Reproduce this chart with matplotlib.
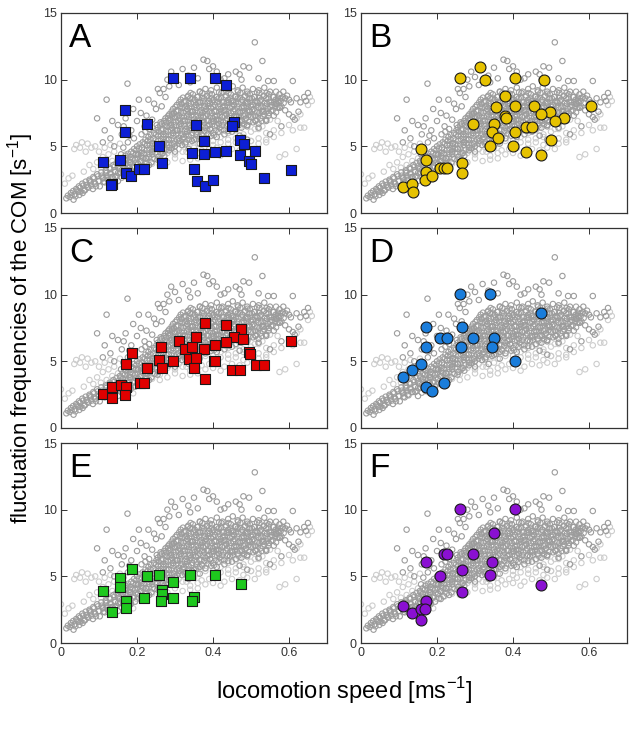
import matplotlib
matplotlib.use("Agg")
import matplotlib.pyplot as plt

plt.rcParams['font.family'] = ['Liberation Sans', 'DejaVu Sans']
plt.rcParams['mathtext.fontset'] = 'custom'
plt.rcParams['mathtext.rm'] = 'Liberation Sans'

# ---- background cloud (all trials) ----
# darker gray points: scattered ones first, then the dense core row by row
bg_dark_x = [0.095, 0.110, 0.115, 0.120, 0.130, 0.135, 0.140, 0.150, 0.160, 0.165, 0.170, 0.175, 0.180, 0.185,
             0.190, 0.200, 0.205, 0.210, 0.220, 0.225, 0.230, 0.240, 0.245, 0.250, 0.255, 0.260, 0.265, 0.270,
             0.275, 0.280, 0.285,
             0.150, 0.158, 0.164, 0.176, 0.182, 0.192, 0.202, 0.212, 0.222, 0.232, 0.242, 0.252, 0.262, 0.272,
             0.282, 0.292,
             0.290, 0.300, 0.320, 0.335, 0.350, 0.360, 0.375, 0.385, 0.390, 0.400, 0.410, 0.430, 0.440, 0.460,
             0.470, 0.475, 0.480, 0.495, 0.510, 0.520, 0.530, 0.545, 0.560, 0.340, 0.310, 0.420,
             0.570, 0.580, 0.585, 0.595, 0.600, 0.605, 0.610, 0.620, 0.630, 0.640, 0.650, 0.645, 0.590, 0.600,
             0.610, 0.615, 0.625, 0.575, 0.565, 0.580, 0.470, 0.490, 0.520, 0.540, 0.550,
             # core rows
             0.365, 0.380, 0.395, 0.410, 0.425, 0.440, 0.452, 0.465, 0.478, 0.490, 0.505, 0.520, 0.535, 0.550,
             0.335, 0.347, 0.360, 0.372, 0.385, 0.397, 0.410, 0.422, 0.435, 0.447, 0.460, 0.472, 0.485, 0.497,
             0.510, 0.522, 0.535, 0.547, 0.560, 0.575,
             0.315, 0.327, 0.340, 0.352, 0.365, 0.377, 0.390, 0.402, 0.415, 0.427, 0.440, 0.452, 0.465, 0.477,
             0.490, 0.502, 0.515, 0.527, 0.540, 0.552, 0.565, 0.578, 0.590,
             0.305, 0.317, 0.330, 0.342, 0.355, 0.367, 0.380, 0.392, 0.405, 0.417, 0.430, 0.442, 0.455, 0.467,
             0.480, 0.492, 0.505, 0.517, 0.530, 0.542, 0.555, 0.567, 0.580,
             0.295, 0.307, 0.320, 0.332, 0.345, 0.357, 0.370, 0.382, 0.395, 0.407, 0.420, 0.432, 0.445, 0.457,
             0.470, 0.482, 0.495, 0.507, 0.520, 0.532, 0.545, 0.557, 0.570,
             0.285, 0.297, 0.310, 0.322, 0.335, 0.347, 0.360, 0.372, 0.385, 0.397, 0.410, 0.422, 0.435, 0.447,
             0.460, 0.472, 0.485, 0.497, 0.510, 0.522, 0.535, 0.547, 0.560,
             0.275, 0.287, 0.300, 0.312, 0.325, 0.337, 0.350, 0.362, 0.375, 0.387, 0.400, 0.412, 0.425, 0.437,
             0.450, 0.462, 0.475, 0.487, 0.500, 0.512, 0.525, 0.540,
             0.265, 0.277, 0.290, 0.302, 0.315, 0.327, 0.340, 0.352, 0.365, 0.377, 0.390, 0.402, 0.415, 0.427,
             0.440, 0.452, 0.465, 0.477, 0.490, 0.505, 0.520,
             0.255, 0.267, 0.280, 0.292, 0.305, 0.317, 0.330, 0.342, 0.355, 0.367, 0.380, 0.392, 0.405, 0.417,
             0.430, 0.445, 0.460, 0.475, 0.490,
             0.245, 0.257, 0.270, 0.282, 0.295, 0.307, 0.320, 0.332, 0.345, 0.357, 0.370, 0.385, 0.400, 0.415,
             0.430, 0.450,
             0.230, 0.243, 0.256, 0.270, 0.283, 0.296, 0.310, 0.323, 0.336, 0.350, 0.365, 0.380, 0.395, 0.410,
             0.215, 0.228, 0.242, 0.256, 0.270, 0.284, 0.298, 0.312, 0.328, 0.345, 0.365,
             0.200, 0.213, 0.227, 0.241, 0.255, 0.270, 0.285, 0.300, 0.318, 0.336,
             0.185, 0.198, 0.212, 0.226, 0.240, 0.254, 0.268, 0.284, 0.300,
             0.170, 0.183, 0.197, 0.211, 0.225, 0.240, 0.256, 0.272,
             0.155, 0.168, 0.181, 0.195, 0.209, 0.223, 0.238, 0.254,
             0.138, 0.150, 0.163, 0.176, 0.189, 0.203, 0.217, 0.232,
             0.118, 0.130, 0.142, 0.155, 0.168, 0.181, 0.195, 0.210,
             0.095, 0.107, 0.119, 0.131, 0.143, 0.156, 0.169, 0.183,
             0.075, 0.087, 0.099, 0.111, 0.123, 0.136, 0.150,
             0.056, 0.067, 0.078, 0.090, 0.102, 0.115,
             0.040, 0.050, 0.061, 0.072, 0.084,
             0.026, 0.036, 0.046, 0.057,
             0.014, 0.023, 0.033]
bg_dark_y = [7.1, 5.3, 6.2, 8.5, 5.6, 6.9, 5.0, 6.6, 5.9, 6.5, 7.1, 9.7, 5.8, 6.2,
             7.8, 6.9, 8.5, 7.5, 6.5, 7.3, 8.5, 7.0, 8.2, 7.8, 9.3, 9.0, 8.0, 9.3,
             8.7, 10.0, 9.5,
             3.0, 4.4, 4.9, 5.3, 4.0, 5.6, 4.4, 5.9, 6.1, 6.3, 5.2, 6.6, 6.8, 5.3,
             7.1, 7.4,
             10.6, 10.2, 10.8, 10.3, 10.9, 10.1, 11.5, 11.4, 10.8, 11.0, 10.6, 10.1, 10.4, 10.6,
             10.4, 10.0, 11.0, 10.9, 12.8, 10.1, 11.4, 9.9, 9.9, 9.8, 9.6, 10.0,
             8.4, 8.6, 9.1, 8.8, 8.5, 8.3, 9.9, 8.6, 8.3, 8.7, 9.0, 8.4, 7.7, 7.4,
             7.2, 7.0, 7.6, 7.9, 8.2, 6.5, 5.8, 5.5, 6.4, 6.9, 5.9,
             9.1, 9.3, 9.2, 9.4, 9.1, 9.3, 9.5, 9.2, 9.4, 9.1, 9.3, 9.2, 9.4, 9.1,
             8.8, 8.9, 8.7, 9.0, 8.8, 8.9, 8.7, 9.0, 8.8, 8.9, 8.7, 9.0, 8.8, 8.9,
             8.7, 9.0, 8.8, 8.9, 8.7, 8.9,
             8.5, 8.4, 8.6, 8.5, 8.3, 8.6, 8.4, 8.5, 8.6, 8.3, 8.5, 8.4, 8.6, 8.5,
             8.3, 8.6, 8.4, 8.5, 8.6, 8.3, 8.5, 8.4, 8.6,
             8.1, 8.2, 8.0, 8.2, 8.1, 8.3, 8.0, 8.2, 8.1, 8.2, 8.0, 8.3, 8.1, 8.2,
             8.0, 8.2, 8.1, 8.3, 8.0, 8.2, 8.1, 8.2, 8.0,
             7.8, 7.7, 7.9, 7.8, 7.6, 7.9, 7.7, 7.8, 7.9, 7.6, 7.8, 7.7, 7.9, 7.8,
             7.6, 7.9, 7.7, 7.8, 7.9, 7.6, 7.8, 7.7, 7.9,
             7.4, 7.5, 7.3, 7.5, 7.4, 7.6, 7.3, 7.5, 7.4, 7.5, 7.3, 7.6, 7.4, 7.5,
             7.3, 7.5, 7.4, 7.6, 7.3, 7.5, 7.4, 7.5, 7.3,
             7.1, 7.0, 7.2, 7.1, 6.9, 7.2, 7.0, 7.1, 7.2, 6.9, 7.1, 7.0, 7.2, 7.1,
             6.9, 7.2, 7.0, 7.1, 7.2, 6.9, 7.1, 7.0,
             6.7, 6.8, 6.6, 6.8, 6.7, 6.9, 6.6, 6.8, 6.7, 6.8, 6.6, 6.9, 6.7, 6.8,
             6.6, 6.8, 6.7, 6.9, 6.6, 6.8, 6.7,
             6.4, 6.3, 6.5, 6.4, 6.2, 6.5, 6.3, 6.4, 6.5, 6.2, 6.4, 6.3, 6.5, 6.4,
             6.2, 6.5, 6.3, 6.4, 6.5,
             6.0, 6.1, 5.9, 6.1, 6.0, 6.2, 5.9, 6.1, 6.0, 6.1, 5.9, 6.2, 6.0, 6.1,
             5.9, 6.1,
             5.7, 5.6, 5.8, 5.7, 5.5, 5.8, 5.6, 5.7, 5.8, 5.5, 5.7, 5.6, 5.8, 5.7,
             5.3, 5.4, 5.2, 5.4, 5.3, 5.5, 5.2, 5.4, 5.3, 5.4, 5.2,
             5.0, 4.9, 5.1, 5.0, 4.8, 5.1, 4.9, 5.0, 5.1, 4.8,
             4.6, 4.7, 4.5, 4.7, 4.6, 4.8, 4.5, 4.7, 4.6,
             4.3, 4.2, 4.4, 4.3, 4.1, 4.4, 4.2, 4.3,
             3.9, 4.0, 3.8, 4.0, 3.9, 4.1, 3.8, 4.0,
             3.6, 3.5, 3.7, 3.6, 3.4, 3.7, 3.5, 3.6,
             3.2, 3.3, 3.1, 3.3, 3.2, 3.4, 3.1, 3.3,
             2.9, 2.8, 3.0, 2.9, 2.7, 3.0, 2.8, 2.9,
             2.5, 2.6, 2.4, 2.6, 2.5, 2.7, 2.4,
             2.2, 2.1, 2.3, 2.2, 2.0, 2.3,
             1.8, 1.9, 1.7, 1.9, 1.8,
             1.5, 1.4, 1.6, 1.5,
             1.1, 1.2, 1.0]

# second, interleaved layer of the dark cloud (fills the gaps of the core)
bg_fill_x = [0.341, 0.366, 0.391, 0.416, 0.441, 0.466, 0.491, 0.516, 0.541, 0.566,
             0.321, 0.333, 0.346, 0.358, 0.371, 0.383, 0.396, 0.408, 0.421, 0.433, 0.446, 0.458, 0.471, 0.483,
             0.496, 0.508, 0.521, 0.533, 0.546, 0.558, 0.571, 0.584,
             0.311, 0.323, 0.336, 0.348, 0.361, 0.373, 0.386, 0.398, 0.411, 0.423, 0.436, 0.448, 0.461, 0.473,
             0.486, 0.498, 0.511, 0.523, 0.536, 0.548, 0.561, 0.573, 0.586,
             0.301, 0.313, 0.326, 0.338, 0.351, 0.363, 0.376, 0.388, 0.401, 0.413, 0.426, 0.438, 0.451, 0.463,
             0.476, 0.488, 0.501, 0.513, 0.526, 0.538, 0.551, 0.563, 0.576,
             0.291, 0.303, 0.316, 0.328, 0.341, 0.353, 0.366, 0.378, 0.391, 0.403, 0.416, 0.428, 0.441, 0.453,
             0.466, 0.478, 0.491, 0.503, 0.516, 0.528, 0.541, 0.553, 0.566,
             0.281, 0.293, 0.306, 0.318, 0.331, 0.343, 0.356, 0.368, 0.381, 0.393, 0.406, 0.418, 0.431, 0.443,
             0.456, 0.468, 0.481, 0.493, 0.506, 0.518, 0.531, 0.546,
             0.271, 0.283, 0.296, 0.308, 0.321, 0.333, 0.346, 0.358, 0.371, 0.383, 0.396, 0.408, 0.421, 0.433,
             0.446, 0.458, 0.471, 0.483, 0.496, 0.512, 0.528,
             0.261, 0.273, 0.286, 0.298, 0.311, 0.323, 0.336, 0.348, 0.361, 0.373, 0.386, 0.398, 0.411, 0.423,
             0.437, 0.452, 0.467, 0.482,
             0.251, 0.263, 0.276, 0.288, 0.301, 0.313, 0.326, 0.338, 0.351, 0.363, 0.377, 0.392, 0.407, 0.422,
             0.440,
             0.237, 0.250, 0.263, 0.276, 0.289, 0.303, 0.316, 0.329, 0.343, 0.357, 0.372, 0.388, 0.403,
             0.222, 0.235, 0.249, 0.263, 0.277, 0.291, 0.305, 0.320, 0.336, 0.355,
             0.207, 0.220, 0.234, 0.248, 0.262, 0.277, 0.292, 0.309, 0.327,
             0.192, 0.205, 0.219, 0.233, 0.247, 0.261, 0.276, 0.292,
             0.177, 0.190, 0.204, 0.218, 0.232, 0.248, 0.264,
             0.162, 0.175, 0.188, 0.202, 0.216, 0.231, 0.246,
             0.146, 0.157, 0.170, 0.183, 0.196, 0.210, 0.225,
             0.128, 0.140, 0.152, 0.165, 0.178, 0.192, 0.206,
             0.106, 0.118, 0.130, 0.143, 0.156, 0.170, 0.184,
             0.085, 0.097, 0.109, 0.121, 0.133, 0.146, 0.160,
             0.065, 0.076, 0.088, 0.100, 0.112, 0.125,
             0.047, 0.058, 0.069, 0.080, 0.092,
             0.032, 0.042, 0.052, 0.063,
             0.018, 0.028, 0.038, 0.048]
bg_fill_y = [9.0, 9.1, 8.95, 9.05, 9.0, 9.1, 8.95, 9.05, 9.0, 9.1,
             8.65, 8.7, 8.6, 8.7, 8.65, 8.75, 8.6, 8.7, 8.65, 8.7, 8.6, 8.75, 8.65, 8.7,
             8.6, 8.7, 8.65, 8.75, 8.6, 8.7, 8.65, 8.7,
             8.3, 8.35, 8.25, 8.35, 8.3, 8.4, 8.25, 8.35, 8.3, 8.35, 8.25, 8.4, 8.3, 8.35,
             8.25, 8.35, 8.3, 8.4, 8.25, 8.35, 8.3, 8.35, 8.25,
             7.95, 8.0, 7.9, 8.0, 7.95, 8.05, 7.9, 8.0, 7.95, 8.0, 7.9, 8.05, 7.95, 8.0,
             7.9, 8.0, 7.95, 8.05, 7.9, 8.0, 7.95, 8.0, 7.9,
             7.6, 7.65, 7.55, 7.65, 7.6, 7.7, 7.55, 7.65, 7.6, 7.65, 7.55, 7.7, 7.6, 7.65,
             7.55, 7.65, 7.6, 7.7, 7.55, 7.65, 7.6, 7.65, 7.55,
             7.25, 7.3, 7.2, 7.3, 7.25, 7.35, 7.2, 7.3, 7.25, 7.3, 7.2, 7.35, 7.25, 7.3,
             7.2, 7.3, 7.25, 7.35, 7.2, 7.3, 7.25, 7.3,
             6.9, 6.95, 6.85, 6.95, 6.9, 7.0, 6.85, 6.95, 6.9, 6.95, 6.85, 7.0, 6.9, 6.95,
             6.85, 6.95, 6.9, 7.0, 6.85, 6.95, 6.9,
             6.55, 6.6, 6.5, 6.6, 6.55, 6.65, 6.5, 6.6, 6.55, 6.6, 6.5, 6.65, 6.55, 6.6,
             6.5, 6.6, 6.55, 6.65,
             6.2, 6.25, 6.15, 6.25, 6.2, 6.3, 6.15, 6.25, 6.2, 6.25, 6.15, 6.3, 6.2, 6.25,
             6.15,
             5.85, 5.9, 5.8, 5.9, 5.85, 5.95, 5.8, 5.9, 5.85, 5.9, 5.8, 5.95, 5.85,
             5.5, 5.55, 5.45, 5.55, 5.5, 5.6, 5.45, 5.55, 5.5, 5.55,
             5.15, 5.2, 5.1, 5.2, 5.15, 5.25, 5.1, 5.2, 5.15,
             4.8, 4.85, 4.75, 4.85, 4.8, 4.9, 4.75, 4.85,
             4.45, 4.5, 4.4, 4.5, 4.45, 4.55, 4.4,
             4.1, 4.15, 4.05, 4.15, 4.1, 4.2, 4.05,
             3.75, 3.8, 3.7, 3.8, 3.75, 3.85, 3.7,
             3.4, 3.45, 3.35, 3.45, 3.4, 3.5, 3.35,
             3.05, 3.1, 3.0, 3.1, 3.05, 3.15, 3.0,
             2.7, 2.75, 2.65, 2.75, 2.7, 2.8, 2.65,
             2.35, 2.4, 2.3, 2.4, 2.35, 2.45,
             2.0, 2.05, 1.95, 2.05, 2.0,
             1.65, 1.7, 1.6, 1.7,
             1.3, 1.35, 1.25, 1.35]

# lighter gray points (lower band)
bg_light_x = [0.000, 0.010, 0.020, 0.030, 0.035, 0.040, 0.050, 0.055, 0.060, 0.065, 0.070, 0.075, 0.080, 0.085,
              0.090, 0.095, 0.100, 0.105, 0.110, 0.115, 0.120, 0.125, 0.130, 0.135, 0.140, 0.150, 0.155, 0.160,
              0.170, 0.175, 0.180, 0.190,
              0.440, 0.460, 0.480, 0.500, 0.520, 0.540, 0.560, 0.580, 0.600,
              0.320, 0.340, 0.360, 0.380, 0.400, 0.420, 0.440, 0.460, 0.480, 0.500, 0.520, 0.540, 0.560,
              0.280, 0.300, 0.320, 0.340, 0.360, 0.380, 0.400, 0.420, 0.440, 0.460, 0.480, 0.500, 0.520, 0.540,
              0.250, 0.270, 0.290, 0.310, 0.330, 0.350, 0.370, 0.390, 0.410, 0.430, 0.450, 0.470, 0.490, 0.510,
              0.220, 0.240, 0.260, 0.280, 0.300, 0.320, 0.340, 0.360, 0.380, 0.400, 0.420,
              0.200, 0.220, 0.240, 0.260, 0.280, 0.300, 0.320, 0.340, 0.360,
              0.180, 0.200, 0.220, 0.240, 0.260,
              0.160, 0.180, 0.200,
              0.570, 0.550, 0.530, 0.590, 0.575, 0.620, 0.630, 0.640, 0.620, 0.610, 0.630, 0.650, 0.660, 0.655,
              0.510, 0.490, 0.470]
bg_light_y = [2.9, 2.2, 2.6, 2.8, 4.8, 5.1, 4.9, 5.3, 3.1, 4.6, 5.2, 3.6, 4.9, 3.3,
              5.0, 3.8, 4.6, 3.4, 4.2, 4.9, 3.6, 4.4, 5.1, 3.9, 4.6, 4.1, 5.2, 3.7,
              4.4, 2.7, 3.0, 2.6,
              6.0, 6.2, 5.9, 6.1, 6.3, 6.0, 6.2, 6.0, 6.6,
              5.6, 5.5, 5.7, 5.6, 5.4, 5.7, 5.5, 5.6, 5.7, 5.4, 5.6, 5.5, 5.7,
              5.2, 5.3, 5.1, 5.3, 5.2, 5.4, 5.1, 5.3, 5.2, 5.3, 5.1, 5.4, 5.2, 5.3,
              4.8, 4.7, 4.9, 4.8, 4.6, 4.9, 4.7, 4.8, 4.9, 4.6, 4.8, 4.7, 4.9, 4.8,
              4.4, 4.5, 4.3, 4.5, 4.4, 4.6, 4.3, 4.5, 4.4, 4.5, 4.3,
              4.0, 3.9, 4.1, 4.0, 3.8, 4.1, 3.9, 4.0, 4.1,
              3.6, 3.7, 3.5, 3.7, 3.6,
              3.2, 3.1, 3.3,
              6.9, 7.0, 6.5, 4.4, 4.2, 4.8, 6.4, 6.4, 7.1, 6.2, 7.4, 8.1, 8.4, 8.7,
              6.3, 6.6, 6.4]

# ---- highlighted groups, one per panel ----
a_x = [0.294, 0.339, 0.404, 0.434, 0.168, 0.226, 0.168, 0.355, 0.454, 0.449, 0.259, 0.376, 0.472, 0.481,
       0.345, 0.377, 0.404, 0.434, 0.472, 0.511, 0.495, 0.500, 0.110, 0.156, 0.171, 0.185, 0.205, 0.219,
       0.266, 0.350, 0.358, 0.378, 0.399, 0.535, 0.604, 0.134, 0.132]
a_y = [10.1, 10.1, 10.1, 9.6, 7.7, 6.7, 6.1, 6.6, 6.8, 6.5, 5.05, 5.4, 5.5, 5.15,
       4.5, 4.4, 4.6, 4.65, 4.35, 4.65, 3.9, 3.7, 3.85, 4.0, 3.0, 2.8, 3.3, 3.3,
       3.75, 3.3, 2.4, 2.0, 2.5, 2.6, 3.25, 2.2, 2.1]

b_x = [0.313, 0.260, 0.326, 0.406, 0.482, 0.379, 0.356, 0.406, 0.455, 0.606, 0.379, 0.381, 0.498, 0.474,
       0.535, 0.511, 0.295, 0.350, 0.433, 0.450, 0.346, 0.406, 0.360, 0.500, 0.339, 0.399, 0.435, 0.473,
       0.158, 0.170, 0.267, 0.265, 0.172, 0.168, 0.187, 0.207, 0.218, 0.225, 0.110, 0.133, 0.136]
b_y = [10.95, 10.1, 10.0, 10.1, 9.95, 8.75, 7.95, 8.0, 8.0, 8.05, 7.3, 7.15, 7.55, 7.4,
       7.1, 6.9, 6.7, 6.7, 6.45, 6.45, 6.05, 6.1, 5.6, 5.45, 5.05, 5.0, 4.6, 4.35,
       4.8, 4.0, 3.75, 3.0, 3.05, 2.5, 2.8, 3.35, 3.35, 3.35, 1.95, 2.2, 1.55]

c_x = [0.379, 0.434, 0.473, 0.356, 0.454, 0.480, 0.311, 0.434, 0.262, 0.325, 0.345, 0.377, 0.405, 0.186,
       0.259, 0.295, 0.337, 0.356, 0.402, 0.406, 0.496, 0.498, 0.172, 0.227, 0.266, 0.349, 0.449, 0.472,
       0.512, 0.534, 0.379, 0.604, 0.207, 0.218, 0.111, 0.135, 0.135, 0.157, 0.170, 0.169]
c_y = [7.9, 7.7, 7.4, 6.85, 6.85, 6.65, 6.55, 6.45, 6.1, 5.95, 6.1, 5.95, 6.2, 5.6,
       5.1, 5.0, 5.15, 5.25, 5.05, 5.05, 5.7, 5.55, 4.8, 4.5, 4.5, 4.5, 4.35, 4.35,
       4.7, 4.75, 3.65, 6.55, 3.4, 3.4, 2.55, 3.05, 2.25, 3.2, 3.1, 2.5]

d_x = [0.260, 0.339, 0.474, 0.170, 0.267, 0.207, 0.226, 0.295, 0.351, 0.170, 0.263, 0.346, 0.406, 0.157,
       0.134, 0.110, 0.219, 0.171, 0.188]
d_y = [10.05, 10.05, 8.6, 7.6, 7.55, 6.75, 6.75, 6.75, 6.75, 6.05, 6.05, 6.05, 5.05, 4.8,
       4.35, 3.85, 3.35, 3.05, 2.75]

e_x = [0.186, 0.156, 0.156, 0.226, 0.258, 0.339, 0.405, 0.295, 0.473, 0.110, 0.265, 0.265, 0.218, 0.262,
       0.295, 0.350, 0.345, 0.170, 0.170, 0.134]
e_y = [5.55, 4.85, 4.2, 5.0, 5.1, 5.1, 5.1, 4.55, 4.4, 3.9, 3.95, 3.7, 3.4, 3.15,
       3.4, 3.45, 3.15, 3.15, 2.6, 2.35]

f_x = [0.260, 0.406, 0.350, 0.219, 0.226, 0.295, 0.172, 0.346, 0.207, 0.267, 0.339, 0.474, 0.267, 0.170,
       0.110, 0.133, 0.157, 0.168, 0.157]
f_y = [10.05, 10.05, 8.25, 6.7, 6.7, 6.7, 6.1, 6.1, 5.05, 5.5, 5.1, 4.35, 3.8, 3.15,
       2.8, 2.25, 2.55, 2.55, 1.7]

panel_letters = ['A', 'B', 'C', 'D', 'E', 'F']
panel_x = [a_x, b_x, c_x, d_x, e_x, f_x]
panel_y = [a_y, b_y, c_y, d_y, e_y, f_y]
panel_colors = ['#0d1fd6', '#e6c200', '#e00000', '#1a7ddb', '#1ec81e', '#8a10d2']
panel_markers = ['s', 'o', 's', 'o', 's', 'o']

fig = plt.figure(figsize=(6.39, 7.32), dpi=100)

col_left = [61 / 639, 361 / 639]
ax_w = 266 / 639
ax_h = 200 / 732
row_bottom = [1 - 213 / 732, 1 - 428 / 732, 1 - 643 / 732]

for i in range(6):
    row, col = i // 2, i % 2
    ax = fig.add_axes([col_left[col], row_bottom[row], ax_w, ax_h])
    # background: light band under the darker cloud
    ax.scatter(bg_light_x, bg_light_y, s=15, facecolors='none', edgecolors='#cdcdcd', linewidths=0.8, zorder=1)
    ax.scatter(bg_fill_x, bg_fill_y, s=15, facecolors='none', edgecolors='#a3a3a3', linewidths=0.8, zorder=2)
    ax.scatter(bg_dark_x, bg_dark_y, s=15, facecolors='none', edgecolors='#9c9c9c', linewidths=0.8, zorder=2)
    ax.scatter(panel_x[i], panel_y[i], s=62, marker=panel_markers[i], c=panel_colors[i],
               edgecolors='#1a1a1a', linewidths=0.8, zorder=3)

    ax.set_xlim(0, 0.7)
    ax.set_ylim(0, 15)
    ax.set_xticks([0, 0.2, 0.4, 0.6])
    ax.set_yticks([0, 5, 10, 15])
    ax.set_yticklabels(['0', '5', '10', '15'])
    ax.tick_params(direction='in', top=True, right=True, length=4, width=0.7,
                   labelsize=9, colors='#333333', pad=3)
    if row == 2:
        ax.set_xticklabels(['0', '0.2', '0.4', '0.6'])
    else:
        ax.set_xticklabels([])
    for sp in ax.spines.values():
        sp.set_color('#333333')
        sp.set_linewidth(0.9)
    ax.text(0.03, 0.95, panel_letters[i], transform=ax.transAxes, fontsize=24,
            va='top', ha='left', color='black')

fig.text(0.538, 0.057, 'locomotion speed [ms$^{\\mathregular{-1}}$]', ha='center', va='center', fontsize=17)
fig.text(0.032, 0.552, 'fluctuation frequencies of the COM [s$^{\\mathregular{-1}}$]', ha='center',
         va='center', rotation=90, fontsize=16)

fig.savefig('out.png', dpi=100)
